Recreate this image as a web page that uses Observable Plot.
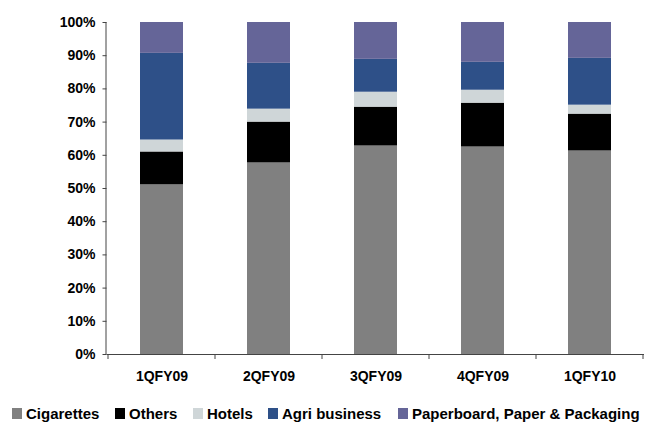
<!DOCTYPE html>
<html>
<head>
<meta charset="utf-8">
<script src="https://cdn.jsdelivr.net/npm/d3@7"></script>
<script src="https://cdn.jsdelivr.net/npm/@observablehq/plot@0.6"></script>
<style>
  html, body { margin: 0; padding: 0; background: #fff; }
  #wrap { position: relative; width: 651px; height: 426px; font-family: Arial, "Liberation Sans", sans-serif; }
  #legend { position: absolute; left: 0; top: 400px; width: 651px; height: 26px; font: bold 15px Arial, "Liberation Sans", sans-serif; color: #000; }
  .item { position: absolute; top: 5px; display: flex; align-items: center; white-space: nowrap; line-height: 17px; }
  .sw { width: 10px; height: 11px; margin-right: 4px; display: inline-block; }
</style>
</head>
<body>
<div id="wrap"><div id="chart"></div><div id="legend"></div></div>
<script>
const quarters = ["1QFY09", "2QFY09", "3QFY09", "4QFY09", "1QFY10"];
const segments = ["Cigarettes", "Others", "Hotels", "Agri business", "Paperboard, Paper & Packaging"];
const colors = ["#808080", "#000000", "#CFD6D8", "#2E5088", "#656598"];
const cigarettes = [51.1, 57.7, 62.8, 62.5, 61.3];
const others     = [9.9, 12.3, 11.7, 13.2, 11.1];
const hotels     = [3.6, 3.9, 4.5, 3.9, 2.7];
const agri       = [26.1, 13.8, 9.9, 8.4, 14.1];
const paper      = [9.3, 12.3, 11.1, 12.0, 10.8];
const yTicks = [0, 10, 20, 30, 40, 50, 60, 70, 80, 90, 100];

const series = [cigarettes, others, hotels, agri, paper];
const rows = [];
segments.forEach((s, i) => quarters.forEach((q, j) => rows.push({quarter: q, segment: s, value: series[i][j]})));

const W = 651, H = 400;
const mL = 106.5, mR = 7, mT = 22, mB = 46;
const font = "bold 14px Arial, 'Liberation Sans', sans-serif";

const chart = Plot.plot({
  width: W, height: H,
  marginLeft: mL, marginRight: mR, marginTop: mT, marginBottom: mB,
  style: {font: font, color: "#000", background: "#fff", overflow: "visible"},
  x: {domain: quarters, paddingInner: 0.595, paddingOuter: 0.2975, label: null},
  y: {domain: [0, 100], label: null},
  color: {domain: segments, range: colors},
  marks: [
    Plot.barY(rows, {x: "quarter", y: "value", fill: "segment", order: segments}),
    Plot.axisY({ticks: yTicks, tickSize: 4, tickPadding: 7.5, tickFormat: d => d + "%", label: null, stroke: "#444", fill: "#000", fontWeight: "bold", fontSize: 14}),
    Plot.axisX({tickSize: 0, tickPadding: 17, label: null, fill: "#000", fontWeight: "bold", fontSize: 14}),
    Plot.ruleY([0], {stroke: "#444"})
  ]
});
document.getElementById("chart").appendChild(chart);

// left axis line and category boundary ticks drawn from the chart's scales
const xs = chart.scale("x"), ys = chart.scale("y");
const svg = d3.select(chart);
const g = svg.append("g").attr("stroke", "#444").attr("stroke-width", 1);
g.append("line")
  .attr("x1", mL - 0.5).attr("x2", mL - 0.5)
  .attr("y1", ys.apply(100)).attr("y2", ys.apply(0));
const gap = (xs.step - xs.bandwidth) / 2;
const bounds = quarters.map(q => xs.apply(q) - gap);
bounds.push(xs.apply(quarters[quarters.length - 1]) + xs.bandwidth + gap);
bounds.forEach(b => g.append("line")
  .attr("x1", b).attr("x2", b)
  .attr("y1", ys.apply(0)).attr("y2", ys.apply(0) + 5));

// legend
const legendX = [12, 115, 193, 268, 398];
const leg = document.getElementById("legend");
segments.forEach((s, i) => {
  const it = document.createElement("div");
  it.className = "item";
  it.style.left = legendX[i] + "px";
  const sw = document.createElement("span");
  sw.className = "sw"; sw.style.background = colors[i];
  it.appendChild(sw);
  it.appendChild(document.createTextNode(s));
  leg.appendChild(it);
});
</script>
</body>
</html>
